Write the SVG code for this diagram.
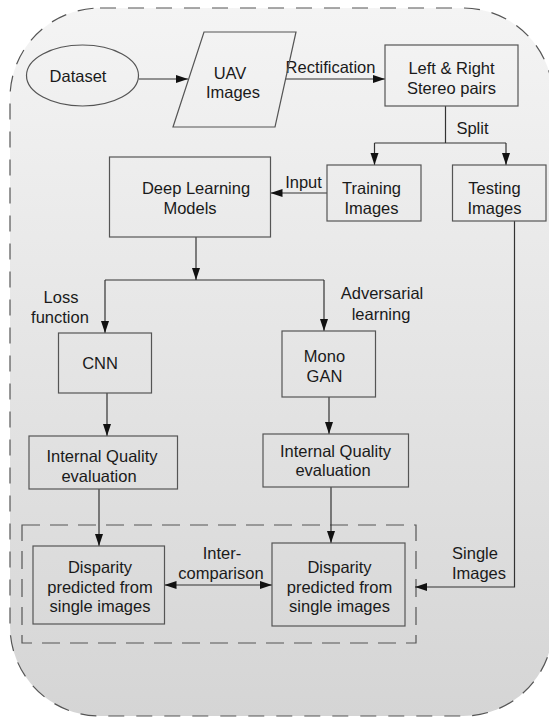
<svg xmlns="http://www.w3.org/2000/svg" width="549" height="717" viewBox="0 0 549 717">
<defs>
  <linearGradient id="bg" x1="0" y1="0" x2="0" y2="1">
    <stop offset="0" stop-color="#f4f4f4"/>
    <stop offset="1" stop-color="#d5d5d5"/>
  </linearGradient>
  <marker id="ah" markerUnits="userSpaceOnUse" markerWidth="13" markerHeight="9" refX="12" refY="4" orient="auto-start-reverse">
    <path d="M0,0 L12,4 L0,8 z" fill="#111"/>
  </marker>
</defs>
<style>
  .box { fill: none; stroke: #555; stroke-width: 1.2; }
  .t { font-family: "Liberation Sans", Arial, sans-serif; font-size: 16.5px; fill: #1a1a1a; text-anchor: middle; }
  .c { fill: none; stroke: #333; stroke-width: 1.2; }
  .ca { fill: none; stroke: #333; stroke-width: 1.2; marker-end: url(#ah); }
</style>
<rect id="outer" x="10" y="8" width="543" height="708" rx="90" ry="90" fill="url(#bg)" stroke="#555" stroke-width="1.2" stroke-dasharray="16 12"/>
<rect id="inner" x="22" y="525" width="394" height="118" fill="none" stroke="#555" stroke-width="1.2" stroke-dasharray="18 10"/>

<g id="connectors">
  <line class="ca" x1="139" y1="79" x2="188" y2="79"/>
  <line class="ca" x1="285" y1="79" x2="385" y2="79"/>
  <line class="c" x1="445.5" y1="106" x2="445.5" y2="143"/>
  <polyline class="c" points="374.5,143 506,143"/>
  <line class="ca" x1="374.5" y1="143" x2="374.5" y2="165"/>
  <line class="ca" x1="506" y1="143" x2="506" y2="165"/>
  <line class="ca" x1="327" y1="193" x2="270.5" y2="193"/>
  <line class="ca" x1="196" y1="237" x2="196" y2="280"/>
  <line class="c" x1="105" y1="280" x2="324" y2="280"/>
  <line class="ca" x1="105" y1="280" x2="105" y2="333"/>
  <line class="ca" x1="324" y1="280" x2="324" y2="331"/>
  <line class="ca" x1="107" y1="393" x2="107" y2="436"/>
  <line class="ca" x1="329" y1="397" x2="329" y2="434"/>
  <line class="ca" x1="99" y1="489" x2="99" y2="546"/>
  <line class="ca" x1="331" y1="487" x2="331" y2="543"/>
  <line class="ca" x1="164.5" y1="585" x2="272" y2="585" marker-start="url(#ah)"/>
  <polyline class="ca" points="514.5,221 514.5,587 415,587"/>
  <text class="t" x="330.5" y="73">Rectification</text>
  <text class="t" x="472.5" y="134">Split</text>
  <text class="t" x="303.5" y="188">Input</text>
  <text class="t" x="61" y="303">Loss</text>
  <text class="t" x="60" y="323">function</text>
  <text class="t" x="382" y="299">Adversarial</text>
  <text class="t" x="381" y="320">learning</text>
  <text class="t" x="222" y="559">Inter-</text>
  <text class="t" x="221" y="579">comparison</text>
  <text class="t" x="475" y="559">Single</text>
  <text class="t" x="479" y="579">Images</text>
</g>

<g id="dataset">
  <ellipse class="box" cx="82.5" cy="75.5" rx="56" ry="30.5"/>
  <text class="t" x="78" y="81.5">Dataset</text>
</g>
<g id="uav">
  <polygon class="box" points="204,32 296,32 275,127 173,127"/>
  <text class="t" x="230" y="79">UAV</text>
  <text class="t" x="233" y="98">Images</text>
</g>
<g id="stereo">
  <rect class="box" x="385" y="45" width="133" height="61"/>
  <text class="t" x="451.5" y="74">Left &amp; Right</text>
  <text class="t" x="451.5" y="94">Stereo pairs</text>
</g>
<g id="dlm">
  <rect class="box" x="109.5" y="157" width="161" height="80"/>
  <text class="t" x="196" y="194">Deep Learning</text>
  <text class="t" x="190" y="214">Models</text>
</g>
<g id="training">
  <rect class="box" x="327" y="165" width="94" height="56"/>
  <text class="t" x="371.5" y="194">Training</text>
  <text class="t" x="371.5" y="214">Images</text>
</g>
<g id="testing">
  <rect class="box" x="452.5" y="165" width="93.5" height="56"/>
  <text class="t" x="494.5" y="194">Testing</text>
  <text class="t" x="494.5" y="214">Images</text>
</g>
<g id="cnn">
  <rect class="box" x="58.5" y="333" width="93" height="60"/>
  <text class="t" x="100" y="369">CNN</text>
</g>
<g id="monogan">
  <rect class="box" x="282" y="331" width="93.5" height="66"/>
  <text class="t" x="324.5" y="362">Mono</text>
  <text class="t" x="324.5" y="382">GAN</text>
</g>
<g id="iqe1">
  <rect class="box" x="29" y="436" width="148.5" height="53"/>
  <text class="t" x="102" y="462">Internal Quality</text>
  <text class="t" x="99" y="482">evaluation</text>
</g>
<g id="iqe2">
  <rect class="box" x="263" y="434" width="145.5" height="53"/>
  <text class="t" x="335.5" y="457">Internal Quality</text>
  <text class="t" x="333" y="476">evaluation</text>
</g>
<g id="disp1">
  <rect class="box" x="33" y="546" width="131.5" height="78"/>
  <text class="t" x="100" y="573">Disparity</text>
  <text class="t" x="100" y="593">predicted from</text>
  <text class="t" x="100" y="612">single images</text>
</g>
<g id="disp2">
  <rect class="box" x="272" y="543" width="133" height="83"/>
  <text class="t" x="339.5" y="573">Disparity</text>
  <text class="t" x="339.5" y="593">predicted from</text>
  <text class="t" x="339.5" y="612">single images</text>
</g>
</svg>
